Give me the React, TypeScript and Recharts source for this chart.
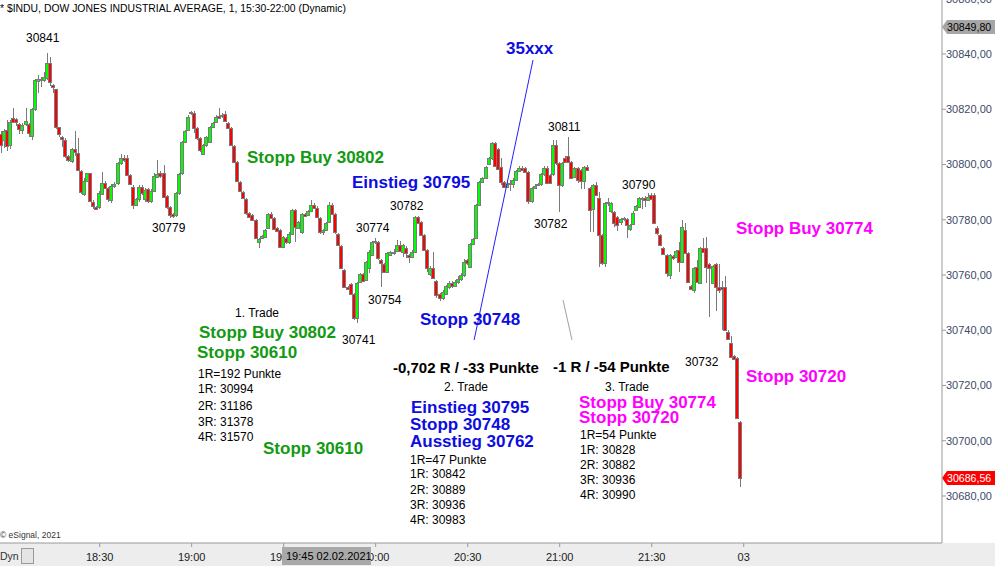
import React from 'react';
import { ComposedChart, Bar, XAxis, YAxis, ReferenceLine } from 'recharts';

// ---- data: 1-minute candles, index 0 = 17:58 ----
const OPEN = [
  30811, 30809, 30812.5, 30807, 30817, 30816.5, 30814.7, 30812.5, 30814.7, 30814.7,
  30810.3, 30820, 30830.4, 30831.1, 30830.6, 30831.2, 30836.9, 30828.8, 30827.2, 30813.5,
  30809.8, 30808.9, 30803.1, 30801.3, 30805.5, 30804, 30797.8, 30789.2, 30794.1, 30796.8,
  30786.5, 30784.7, 30784.7, 30789.4, 30793.2, 30791.6, 30787.1, 30792.2, 30793.2, 30800.7,
  30802.2, 30802.2, 30796.1, 30792, 30785.4, 30787.4, 30791.7, 30787.4, 30791, 30786.8,
  30790.4, 30795.6, 30796.8, 30797, 30788.6, 30784.5, 30782, 30781.7, 30789.6, 30796.8,
  30808.3, 30812.5, 30818.5, 30818.5, 30813.1, 30809.5, 30803.9, 30807.1, 30808.3, 30813.7,
  30815.3, 30817.6, 30817.5, 30818.2, 30814.9, 30813.1, 30806.8, 30801, 30793.5, 30789.9,
  30787.5, 30782.3, 30781.7, 30779.9, 30771.8, 30773.4, 30773.9, 30777.1, 30782, 30780.5,
  30776.9, 30776.3, 30770.2, 30773.5, 30771.8, 30775, 30783.5, 30777.1, 30775.4, 30782,
  30781.6, 30783.2, 30785.3, 30784.4, 30780.5, 30775.4, 30776.3, 30779.1, 30785.3, 30782,
  30774.7, 30770.6, 30761.8, 30755.8, 30756.6, 30753, 30744.4, 30757.6, 30760.2, 30758.2,
  30762.4, 30767.2, 30771.8, 30771.8, 30765.4, 30763.9, 30761.2, 30767.2, 30767.8, 30768.7,
  30770.9, 30768.5, 30769.7, 30767.2, 30766.6, 30768.5, 30781.1, 30779.1, 30774.5, 30769.1,
  30760.2, 30762.7, 30757.8, 30753, 30751.8, 30753, 30755.8, 30757.2, 30756, 30757.4,
  30758.4, 30760, 30765.3, 30763, 30771.1, 30773.3, 30785.3, 30793.8, 30795.2, 30800.1,
  30802.2, 30807.7, 30805.5, 30799.2, 30793.8, 30792, 30792.9, 30792.8, 30794.4, 30797.6,
  30798.9, 30798.6, 30797.2, 30786.8, 30791.6, 30792.6, 30792.8, 30796.4, 30798.9, 30796.2,
  30796.4, 30807.1, 30800.4, 30792.6, 30802.2, 30803.2, 30801, 30795.6, 30798.6, 30798,
  30794, 30799.2, 30791.4, 30784, 30792.6, 30788, 30774.5, 30764.2, 30785.9, 30783,
  30782.9, 30781, 30779.1, 30780.2, 30780.2, 30776.5, 30778.5, 30783.6, 30784.7, 30787.8,
  30787.8, 30787.2, 30789, 30789, 30776.9, 30774.5, 30769.7, 30767.2, 30760, 30766.9,
  30766.4, 30769, 30764.8, 30776.3, 30767.9, 30756, 30754.6, 30762.8, 30757, 30769.7,
  30769.7, 30764, 30757, 30764, 30755.6, 30755.5, 30755.5, 30739.5, 30735.3, 30730.7,
  30729.8, 30706.9,
];
const HIGH = [
  30812, 30813, 30816, 30816, 30820.4, 30817, 30815, 30815, 30820.3, 30815,
  30820.5, 30831, 30832.4, 30831.5, 30833.6, 30840.2, 30839, 30829, 30827.5, 30813.5,
  30810.5, 30809.5, 30803.5, 30806, 30812.1, 30809.5, 30798, 30795, 30797, 30797,
  30787, 30785, 30790.5, 30797.4, 30794, 30792, 30793, 30793.5, 30801, 30803.8,
  30803.5, 30803.3, 30796.5, 30792.5, 30788, 30792.5, 30792.5, 30791.5, 30791.5, 30791,
  30797, 30801.6, 30797.5, 30799.8, 30789, 30785, 30782.5, 30790, 30797, 30808.5,
  30812.5, 30818, 30819.5, 30819.3, 30813.5, 30810, 30807.5, 30810.5, 30814, 30815.3,
  30818, 30820.6, 30818.5, 30819.4, 30815.3, 30813.5, 30807.2, 30801.4, 30793.9, 30790.3,
  30787.9, 30782.7, 30782.1, 30780.3, 30773.4, 30774.4, 30776.7, 30782.4, 30782.8, 30781,
  30777.3, 30776.7, 30774.3, 30773.9, 30775.4, 30783.9, 30784, 30779.5, 30782.4, 30782.5,
  30783.6, 30787.2, 30786, 30784.8, 30780.9, 30776.7, 30779.3, 30786.5, 30786.2, 30782.4,
  30775.1, 30771, 30762.2, 30756.2, 30757, 30753.4, 30757.4, 30760.6, 30760.6, 30765.2,
  30768.9, 30772.2, 30773.5, 30772.4, 30765.8, 30764.3, 30768.2, 30768.6, 30769.5, 30772.5,
  30772.3, 30771.3, 30770.5, 30767.6, 30768.9, 30781.5, 30781.5, 30779.5, 30774.9, 30769.5,
  30763.1, 30768.5, 30758.2, 30753.4, 30754.4, 30756.5, 30758, 30757.8, 30758.2, 30759.5,
  30760.8, 30765.8, 30765.8, 30771.5, 30773.4, 30785.7, 30794.2, 30795.6, 30799.6, 30802.6,
  30808.1, 30808, 30806, 30802.2, 30794.2, 30794, 30794.5, 30795, 30798, 30799.4,
  30799.4, 30799, 30797.6, 30791.8, 30793, 30793.2, 30796.8, 30799.4, 30799.3, 30796.6,
  30808.9, 30808.9, 30800.8, 30800.8, 30803, 30810.1, 30801.4, 30799, 30799, 30798.4,
  30799.6, 30799.8, 30791.8, 30793, 30793.6, 30790, 30775, 30786.5, 30788, 30786.6,
  30783.3, 30781.4, 30780.7, 30781, 30780.6, 30778.5, 30783, 30785.2, 30788.2, 30788.2,
  30788.6, 30789.6, 30789.6, 30789.6, 30777.7, 30774.9, 30770.1, 30767.6, 30767.6, 30767.3,
  30769.2, 30772.1, 30779.9, 30778.7, 30768.3, 30756.4, 30762.8, 30765.4, 30770.1, 30773.3,
  30773.9, 30764.4, 30763.8, 30764.4, 30764, 30758, 30759.7, 30740, 30738, 30731.1,
  30730.2, 30707.3,
];
const LOW = [
  30804, 30806, 30805, 30805.5, 30815, 30814, 30811, 30811, 30814, 30810,
  30809, 30819.5, 30825.8, 30828, 30830, 30830.5, 30828.4, 30826, 30813, 30810,
  30806.5, 30802.5, 30801, 30800.5, 30803, 30797.5, 30789.5, 30788.5, 30793.5, 30786.5,
  30784, 30783.5, 30784, 30789, 30791, 30786.5, 30786, 30791.5, 30792.5, 30800,
  30801, 30795.8, 30792.5, 30783.8, 30785, 30786.5, 30789, 30786.5, 30786, 30786,
  30790, 30795.2, 30795, 30787.8, 30784, 30780.6, 30780.6, 30781, 30789, 30796.3,
  30808, 30812, 30818, 30811.3, 30809, 30804.5, 30803.5, 30806.5, 30808, 30813.3,
  30815, 30816.5, 30816.8, 30815.3, 30812.7, 30806.7, 30800.6, 30793.6, 30790, 30787.6,
  30781.9, 30780.7, 30779.5, 30772.9, 30769.6, 30773, 30773.5, 30776.7, 30780.1, 30776.3,
  30775.5, 30769.8, 30769.8, 30771.4, 30771.4, 30774.6, 30772, 30776.7, 30775, 30781,
  30781.2, 30782.8, 30784, 30780.7, 30775, 30774.5, 30775.9, 30778.7, 30781.6, 30775,
  30770.5, 30762, 30755.4, 30754.5, 30752.6, 30743.8, 30742.5, 30757.2, 30757.4, 30757.8,
  30760.8, 30766.8, 30771.4, 30765.6, 30755.8, 30760.6, 30760.8, 30766.8, 30767.4, 30768.3,
  30768.3, 30766.5, 30766, 30764.4, 30766.2, 30768.1, 30778.3, 30774.1, 30768.7, 30761.2,
  30759.8, 30758.6, 30751.8, 30750.6, 30751, 30752.6, 30755, 30755.2, 30755.5, 30756.8,
  30758, 30759.4, 30763.8, 30762.6, 30770.7, 30772.9, 30784.9, 30793.4, 30794.8, 30799.7,
  30801.8, 30799.2, 30798, 30792.6, 30791.6, 30791.5, 30790.5, 30791.5, 30794, 30797.2,
  30797.6, 30796.9, 30785.8, 30786, 30791, 30792.2, 30792.4, 30796, 30792.8, 30792.8,
  30796, 30800, 30782.9, 30792, 30800.6, 30800.6, 30794.6, 30795.2, 30793.4, 30791,
  30791, 30797.6, 30775.7, 30775.7, 30788.6, 30763, 30763.5, 30763, 30785, 30782.6,
  30777.5, 30776, 30778, 30779.5, 30773.3, 30776, 30778, 30783.2, 30784.3, 30784,
  30784.5, 30786.8, 30787, 30778.3, 30774.5, 30770.5, 30767.2, 30759.2, 30758.4, 30765.6,
  30766, 30761.2, 30764.4, 30767.5, 30757.2, 30754.4, 30753.4, 30757.2, 30756.6, 30768.1,
  30757, 30744.9, 30756.6, 30747, 30753.4, 30740.1, 30739.7, 30736.3, 30729.8, 30729.1,
  30707.7, 30683.4,
];
const CLOSE = [
  30807, 30812, 30806.7, 30815.5, 30815.5, 30815.4, 30812.7, 30814.3, 30815.7, 30811.3,
  30820, 30830.6, 30831.1, 30830.6, 30831.6, 30836.9, 30829.9, 30828.2, 30813.5, 30811,
  30809.1, 30803.1, 30801.6, 30805.7, 30804.6, 30798, 30790.2, 30794, 30796.8, 30786.9,
  30785, 30783.8, 30789.6, 30793.4, 30791.6, 30787.4, 30792.2, 30792.8, 30800.4, 30802.2,
  30801.6, 30796.2, 30793, 30785.2, 30787.4, 30792, 30789.6, 30790.8, 30786.8, 30790.4,
  30795.8, 30796.6, 30795.8, 30788.4, 30784.5, 30781.7, 30781.2, 30789.6, 30796.4, 30808,
  30812.1, 30817.3, 30819.1, 30813.3, 30809.5, 30805.3, 30807.1, 30810.1, 30813.7, 30814.9,
  30817.3, 30817, 30817.8, 30815.7, 30813.1, 30807.1, 30801, 30794, 30790.4, 30788,
  30782.3, 30781.1, 30779.9, 30773.3, 30773, 30774, 30776.3, 30782, 30780.5, 30776.7,
  30775.9, 30770.2, 30773.9, 30771.8, 30775, 30783.5, 30777.5, 30779.1, 30782, 30781.5,
  30783.2, 30785.3, 30784.4, 30781.1, 30775.4, 30776.3, 30778.9, 30785.3, 30782, 30775.4,
  30770.9, 30762.4, 30755.8, 30754.9, 30753, 30744.6, 30757, 30760.2, 30757.8, 30764.8,
  30768.5, 30771.8, 30772.3, 30766, 30764.2, 30761, 30767.8, 30768.2, 30768.2, 30770.9,
  30768.7, 30770.9, 30767.8, 30766.6, 30768.5, 30781.1, 30778.7, 30774.5, 30769.1, 30762.4,
  30762.7, 30759, 30752.8, 30751.6, 30754, 30756.1, 30757.2, 30756.2, 30757.6, 30758.5,
  30760, 30764.6, 30764.4, 30771.1, 30773, 30785.3, 30793.8, 30795.2, 30799.2, 30802.2,
  30807.7, 30799.5, 30798.5, 30793.8, 30792, 30792.9, 30793.2, 30794.4, 30797.6, 30798.9,
  30798, 30797.3, 30786.8, 30791.4, 30792.4, 30792.8, 30796.4, 30798.9, 30793.2, 30793.2,
  30807.1, 30800.4, 30792.6, 30800.4, 30801, 30801, 30795, 30798.6, 30794.4, 30794,
  30799.2, 30798, 30783.5, 30792.6, 30789, 30774.5, 30764.2, 30785.9, 30786.3, 30786.2,
  30778.7, 30778.1, 30780.3, 30780.6, 30778.1, 30778.1, 30782.6, 30784.8, 30787.8, 30787.4,
  30787.2, 30788.4, 30787.4, 30778.7, 30775.1, 30770.9, 30767.6, 30760.6, 30767.2, 30766,
  30768.8, 30764.8, 30777.3, 30767.9, 30757.6, 30754.8, 30762.4, 30757.6, 30769.7, 30768.5,
  30763, 30762.5, 30763.4, 30755.6, 30754.6, 30754.8, 30740.1, 30736.7, 30730.4, 30729.5,
  30708.1, 30686.56,
];

const X_TICKS = [32, 62, 92, 122, 152, 182, 212, 242];
const X_TICK_LABELS = ['18:30', '19:00', '19:30', '20:00', '20:30', '21:00', '21:30', '03'];
const Y_TICKS = [30680, 30700, 30720, 30740, 30760, 30780, 30800, 30820, 30840, 30860];
const HIGH_MARK = 30849.8;
const LAST_PRICE = 30686.56;
const TARGET_LINE = [{ x: 154.1, y: 30736.5 }, { x: 173.3, y: 30837.8 }];
const GRAY_LINE = [{ x: 183.1, y: 30750.9 }, { x: 186.0, y: 30736.5 }];

const data = OPEN.map((o, i) => ({
  m: i,
  open: o,
  high: HIGH[i],
  low: LOW[i],
  close: CLOSE[i],
  range: [LOW[i], HIGH[i]],
}));

const FONT = '"Liberation Sans", Arial, sans-serif';
const GREEN = '#129a12';
const BLUE = '#0d0de0';
const MAGENTA = '#ff00ff';
const CANDLE_UP = '#00ff00';
const CANDLE_DOWN = '#ff0000';
const CANDLE_EDGE = '#7a7a7a';

type Note = { t: string; x: number; y: number; c?: string; s?: number; b?: boolean };
const NOTES: Note[] = [
  { t: '30841', x: 26, y: 38 },
  { t: '30779', x: 152, y: 228 },
  { t: 'Stopp Buy 30802', x: 247, y: 157, c: GREEN, s: 17, b: true },
  { t: 'Einstieg 30795', x: 352, y: 182, c: BLUE, s: 17, b: true },
  { t: '30782', x: 390, y: 206 },
  { t: '30774', x: 356, y: 228 },
  { t: '30754', x: 368, y: 300 },
  { t: '30741', x: 342, y: 340 },
  { t: '1. Trade', x: 235, y: 313 },
  { t: 'Stopp Buy 30802', x: 199, y: 332, c: GREEN, s: 17, b: true },
  { t: 'Stopp 30610', x: 197, y: 352, c: GREEN, s: 17, b: true },
  { t: '1R=192 Punkte', x: 198, y: 374 },
  { t: '1R: 30994', x: 198, y: 389 },
  { t: '2R: 31186', x: 198, y: 406 },
  { t: '3R: 31378', x: 198, y: 422 },
  { t: '4R: 31570', x: 198, y: 437 },
  { t: 'Stopp 30610', x: 263, y: 448, c: GREEN, s: 17, b: true },
  { t: '35xxx', x: 506, y: 48, c: BLUE, s: 17, b: true },
  { t: 'Stopp 30748', x: 420, y: 319, c: BLUE, s: 17, b: true },
  { t: '-0,702 R / -33 Punkte', x: 393, y: 367, s: 15, b: true },
  { t: '2. Trade', x: 444, y: 387 },
  { t: 'Einstieg 30795', x: 411, y: 407, c: BLUE, s: 17, b: true },
  { t: 'Stopp 30748', x: 410, y: 424, c: BLUE, s: 17, b: true },
  { t: 'Ausstieg 30762', x: 410, y: 441, c: BLUE, s: 17, b: true },
  { t: '1R=47 Punkte', x: 410, y: 460 },
  { t: '1R: 30842', x: 410, y: 474 },
  { t: '2R: 30889', x: 410, y: 490 },
  { t: '3R: 30936', x: 410, y: 505 },
  { t: '4R: 30983', x: 410, y: 520 },
  { t: '30811', x: 548, y: 127 },
  { t: '30782', x: 534, y: 224 },
  { t: '30790', x: 622, y: 185 },
  { t: '-1 R / -54 Punkte', x: 553, y: 366, s: 15, b: true },
  { t: '3. Trade', x: 605, y: 387 },
  { t: 'Stopp Buy 30774', x: 579, y: 402, c: MAGENTA, s: 17, b: true },
  { t: 'Stopp 30720', x: 579, y: 417, c: MAGENTA, s: 17, b: true },
  { t: '1R=54 Punkte', x: 580, y: 435 },
  { t: '1R: 30828', x: 580, y: 450 },
  { t: '2R: 30882', x: 580, y: 465 },
  { t: '3R: 30936', x: 580, y: 480 },
  { t: '4R: 30990', x: 580, y: 495 },
  { t: '30732', x: 685, y: 362 },
  { t: 'Stopp Buy 30774', x: 736, y: 228, c: MAGENTA, s: 17, b: true },
  { t: 'Stopp 30720', x: 746, y: 376, c: MAGENTA, s: 17, b: true },
];

const fmtPrice = (v: number) => v.toFixed(2).replace('.', ',');

const Candle = (props: any) => {
  const { x, y, width, height, payload } = props;
  if (x == null || y == null || !payload) return null;
  const top = Math.min(y, y + height);
  const span = Math.abs(height);
  const { open, high, low, close } = payload;
  const rng = high - low || 1;
  const py = (v: number) => top + ((high - v) / rng) * span;
  const c = Math.floor(x + width / 2);
  const yO = py(open);
  const yC = py(close);
  const bTop = Math.round(Math.min(yO, yC));
  const bBot = Math.max(bTop + 1, Math.round(Math.max(yO, yC)));
  const up = close >= open;
  return (
    <g>
      <line x1={c + 0.5} x2={c + 0.5} y1={Math.round(top)} y2={Math.round(top + span)} stroke={CANDLE_EDGE} strokeWidth={1} />
      <rect x={c - 1.5} y={bTop + 0.5} width={3} height={bBot - bTop} fill={up ? CANDLE_UP : CANDLE_DOWN} stroke={CANDLE_EDGE} strokeWidth={1} />
    </g>
  );
};

const PriceTag = ({ viewBox, text, bg, fg }: any) => {
  if (!viewBox) return null;
  const x0 = viewBox.x + viewBox.width;
  const yc = viewBox.y;
  return (
    <g>
      <polygon points={`${x0},${yc} ${x0 + 5},${yc - 7} ${995},${yc - 7} ${995},${yc + 7} ${x0 + 5},${yc + 7}`} fill={bg} />
      <text x={x0 + 5} y={yc} dominantBaseline="central" fontSize={10.6} fill={fg} fontFamily={FONT}>{text}</text>
    </g>
  );
};

export default function App() {
  return (
    <div style={{ position: 'absolute', left: 0, top: 0, width: 995, height: 566, overflow: 'hidden', background: '#ffffff', fontFamily: FONT }}>
      <div style={{ position: 'absolute', left: 0, top: 543, width: 995, height: 23, background: '#ededed' }} />
      <div style={{ position: 'absolute', left: 0, top: -20 }}>
        <ComposedChart width={995} height={586} data={data} margin={{ top: 0, right: 0, bottom: 0, left: 0 }}>
          <XAxis
            dataKey="m"
            type="number"
            domain={[-0.489, 306.65]}
            allowDataOverflow
            ticks={X_TICKS}
            tickFormatter={(v: number) => X_TICK_LABELS[X_TICKS.indexOf(v)] ?? ''}
            height={23}
            tickSize={4}
            tickMargin={6}
            stroke="#9a9a9a"
            tick={{ fontSize: 11, fill: '#222', fontFamily: FONT }}
            interval={0}
          />
          <YAxis
            orientation="right"
            type="number"
            domain={[30662.99, 30866.79]}
            allowDataOverflow
            ticks={Y_TICKS}
            tickFormatter={fmtPrice}
            width={53}
            tickSize={4}
            tickMargin={0}
            stroke="#9a9a9a"
            tick={{ fontSize: 11, fill: '#3d4a68', fontFamily: FONT }}
            interval={0}
          />
          <Bar dataKey="range" barSize={3} isAnimationActive={false} shape={<Candle />} />
          <ReferenceLine segment={TARGET_LINE} stroke="#2020ff" strokeWidth={1} ifOverflow="visible" />
          <ReferenceLine segment={GRAY_LINE} stroke="#a0a0a0" strokeWidth={1} ifOverflow="visible" />
          <ReferenceLine y={HIGH_MARK} stroke="none" ifOverflow="visible" label={<PriceTag text={fmtPrice(HIGH_MARK)} bg="#a6a6a6" fg="#000" />} />
          <ReferenceLine y={LAST_PRICE} stroke="none" ifOverflow="visible" label={<PriceTag text={fmtPrice(LAST_PRICE)} bg="#ff0000" fg="#ffffff" />} />
        </ComposedChart>
      </div>
      <svg width={995} height={566} style={{ position: 'absolute', left: 0, top: 0, pointerEvents: 'none' }}>
        <text x={0} y={8} dominantBaseline="central" fontSize={10.4} fill="#000" fontFamily={FONT}>
          * $INDU, DOW JONES INDUSTRIAL AVERAGE, 1, 15:30-22:00 (Dynamic)
        </text>
        {NOTES.map((n, i) => (
          <text key={i} x={n.x} y={n.y} dominantBaseline="central" fontSize={n.s ?? 12} fontWeight={n.b ? 'bold' : 'normal'} fill={n.c ?? '#000'} fontFamily={FONT}>
            {n.t}
          </text>
        ))}
        <text x={0} y={535} dominantBaseline="central" fontSize={8.5} fill="#333" fontFamily={FONT}>© eSignal, 2021</text>
        <text x={0} y={556} dominantBaseline="central" fontSize={10.5} fill="#333" fontFamily={FONT}>Dyn</text>
        <rect x={21.5} y={548.5} width={12} height={15} fill="#e4e4e4" stroke="#9a9a9a" />
        <rect x={282} y={547} width={89} height={18} fill="#a9a9a9" />
        <text x={286} y={556} dominantBaseline="central" fontSize={11} fill="#000" fontFamily={FONT}>19:45 02.02.2021</text>
      </svg>
    </div>
  );
}
